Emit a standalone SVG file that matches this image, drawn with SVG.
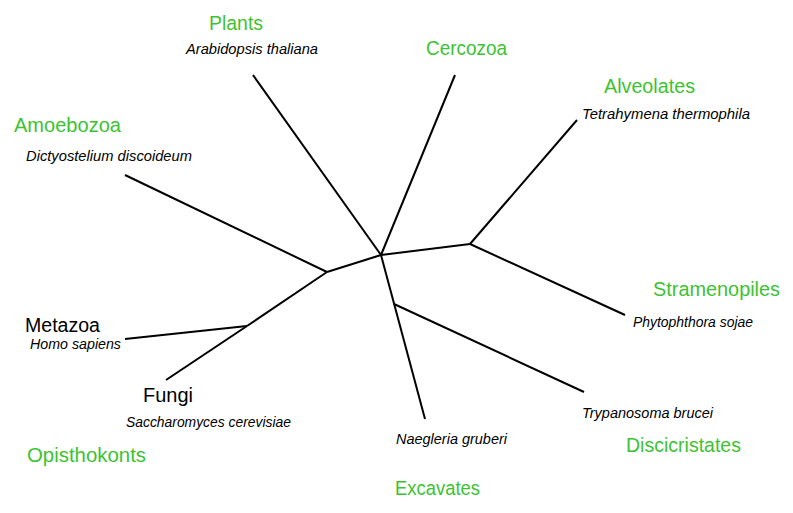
<svg xmlns="http://www.w3.org/2000/svg" width="793" height="513" viewBox="0 0 793 513">
<style>
.edge{stroke:#000;stroke-width:2;fill:none;stroke-linecap:butt}
.grp{font-family:"Liberation Sans",Arial,sans-serif;font-size:20.5px;fill:#3cc332}
.blk{font-family:"Liberation Sans",Arial,sans-serif;font-size:20px;fill:#000}
.sp{font-family:"Liberation Sans",Arial,sans-serif;font-size:15px;font-style:italic;fill:#000}
</style>
<rect width="793" height="513" fill="#fff"/>
<g id="connectors">
<line class="edge" x1="253" y1="75" x2="381" y2="255"/>
<line class="edge" x1="455" y1="75" x2="381" y2="255"/>
<line class="edge" x1="381" y1="255" x2="470" y2="244"/>
<line class="edge" x1="470" y1="244" x2="577" y2="120"/>
<line class="edge" x1="470" y1="244" x2="625" y2="315"/>
<line class="edge" x1="381" y1="255" x2="327" y2="272"/>
<line class="edge" x1="125" y1="175" x2="327" y2="272"/>
<line class="edge" x1="327" y1="272" x2="247" y2="326"/>
<line class="edge" x1="247" y1="326" x2="125" y2="339"/>
<line class="edge" x1="247" y1="326" x2="166" y2="380"/>
<line class="edge" x1="381" y1="255" x2="425" y2="419"/>
<line class="edge" x1="394" y1="304" x2="584" y2="392"/>
</g>
<g id="plants">
<text class="grp" x="209" y="30" textLength="54" lengthAdjust="spacingAndGlyphs">Plants</text>
<text class="sp" x="186" y="54" textLength="132" lengthAdjust="spacingAndGlyphs">Arabidopsis thaliana</text>
</g>
<g id="cercozoa">
<text class="grp" x="426" y="55" textLength="81" lengthAdjust="spacingAndGlyphs">Cercozoa</text>
</g>
<g id="alveolates">
<text class="grp" x="604" y="93" textLength="91" lengthAdjust="spacingAndGlyphs">Alveolates</text>
<text class="sp" x="582" y="119" textLength="168" lengthAdjust="spacingAndGlyphs">Tetrahymena thermophila</text>
</g>
<g id="amoebozoa">
<text class="grp" x="14" y="132" textLength="107" lengthAdjust="spacingAndGlyphs">Amoebozoa</text>
<text class="sp" x="26" y="161" textLength="166" lengthAdjust="spacingAndGlyphs">Dictyostelium discoideum</text>
</g>
<g id="stramenopiles">
<text class="grp" x="653" y="296" textLength="127" lengthAdjust="spacingAndGlyphs">Stramenopiles</text>
<text class="sp" x="633" y="327" textLength="120" lengthAdjust="spacingAndGlyphs">Phytophthora sojae</text>
</g>
<g id="metazoa">
<text class="blk" x="25" y="332" textLength="75" lengthAdjust="spacingAndGlyphs">Metazoa</text>
<text class="sp" x="30" y="349" textLength="91" lengthAdjust="spacingAndGlyphs">Homo sapiens</text>
</g>
<g id="fungi">
<text class="blk" x="143" y="402" textLength="50" lengthAdjust="spacingAndGlyphs">Fungi</text>
<text class="sp" x="126" y="427" textLength="165" lengthAdjust="spacingAndGlyphs">Saccharomyces cerevisiae</text>
</g>
<g id="opisthokonts">
<text class="grp" x="27" y="462" textLength="119" lengthAdjust="spacingAndGlyphs">Opisthokonts</text>
</g>
<g id="naegleria">
<text class="sp" x="396" y="444" textLength="111" lengthAdjust="spacingAndGlyphs">Naegleria gruberi</text>
</g>
<g id="trypanosoma">
<text class="sp" x="582" y="418" textLength="131" lengthAdjust="spacingAndGlyphs">Trypanosoma brucei</text>
</g>
<g id="discicristates">
<text class="grp" x="626" y="452" textLength="115" lengthAdjust="spacingAndGlyphs">Discicristates</text>
</g>
<g id="excavates">
<text class="grp" x="395" y="495" textLength="85" lengthAdjust="spacingAndGlyphs">Excavates</text>
</g>
</svg>
